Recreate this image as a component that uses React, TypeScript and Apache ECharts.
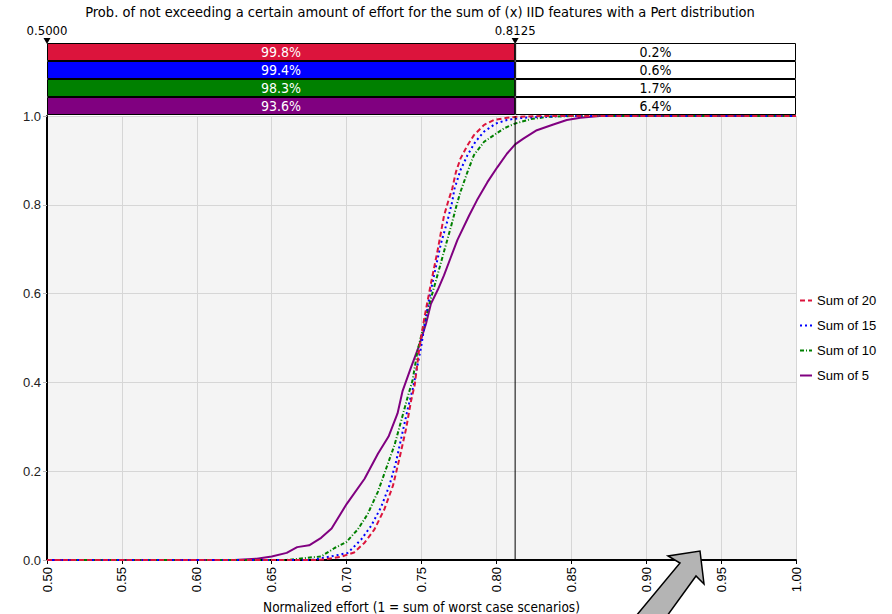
import React, { useEffect, useRef } from 'react';
import * as echarts from 'echarts';

// ---- data ----
const seriesNames = ['Sum of 20', 'Sum of 15', 'Sum of 10', 'Sum of 5'];
const seriesColors = ['#dc143c', '#0000ff', '#008000', '#800080'];

const sum20: number[][] = [
  [0.5, 0], [0.68, 0], [0.685, 0.001], [0.696, 0.007], [0.705, 0.017], [0.712, 0.039],
  [0.7186, 0.069], [0.7253, 0.115], [0.731, 0.168], [0.7353, 0.229], [0.7398, 0.297],
  [0.743, 0.358], [0.7455, 0.395], [0.7486, 0.479], [0.752, 0.547], [0.7563, 0.623],
  [0.7608, 0.698], [0.765, 0.775], [0.768, 0.81], [0.7705, 0.836], [0.773, 0.874],
  [0.776, 0.904], [0.7807, 0.934], [0.785, 0.957], [0.7918, 0.98], [0.7984, 0.991],
  [0.807, 0.996], [0.8125, 0.998], [0.83, 1.0], [1.0, 1.0],
];
const sum15: number[][] = [
  [0.5, 0], [0.675, 0], [0.678, 0.001], [0.6896, 0.008], [0.7008, 0.016], [0.7097, 0.046],
  [0.7164, 0.077], [0.723, 0.119], [0.7286, 0.168], [0.733, 0.221], [0.7375, 0.29],
  [0.741, 0.343], [0.7445, 0.39], [0.7497, 0.479], [0.754, 0.57], [0.7586, 0.645],
  [0.763, 0.713], [0.7675, 0.766], [0.7705, 0.807], [0.772, 0.836], [0.776, 0.878],
  [0.7807, 0.912], [0.786, 0.942], [0.7918, 0.965], [0.7996, 0.983], [0.807, 0.991],
  [0.8125, 0.994], [0.818, 0.996], [0.829, 0.998], [0.845, 1.0], [1.0, 1.0],
];
const sum10: number[][] = [
  [0.5, 0], [0.66, 0], [0.674, 0.005], [0.683, 0.008], [0.692, 0.027], [0.6997, 0.04],
  [0.7075, 0.069], [0.714, 0.103], [0.7208, 0.153], [0.7264, 0.206], [0.732, 0.259],
  [0.7364, 0.313], [0.741, 0.37], [0.744, 0.404], [0.7474, 0.472], [0.754, 0.562],
  [0.7597, 0.63], [0.7653, 0.698], [0.7697, 0.751], [0.7735, 0.8], [0.776, 0.829],
  [0.7807, 0.874], [0.785, 0.912], [0.7918, 0.942], [0.7984, 0.957], [0.805, 0.972],
  [0.8125, 0.983], [0.823, 0.993], [0.834, 0.998], [0.85, 1.0], [1.0, 1.0],
];
const sum5: number[][] = [
  [0.5, 0], [0.625, 0], [0.64, 0.003], [0.65, 0.008], [0.66, 0.016], [0.667, 0.029],
  [0.675, 0.033], [0.683, 0.05], [0.69, 0.071], [0.7, 0.126], [0.712, 0.183],
  [0.721, 0.24], [0.728, 0.278], [0.734, 0.33], [0.7374, 0.381], [0.743, 0.434],
  [0.748, 0.479], [0.753, 0.532], [0.7563, 0.577], [0.7608, 0.608], [0.765, 0.641],
  [0.7697, 0.683], [0.774, 0.721], [0.7818, 0.776], [0.787, 0.81], [0.794, 0.851],
  [0.8007, 0.885], [0.807, 0.915], [0.8125, 0.936], [0.818, 0.949], [0.827, 0.968],
  [0.838, 0.981], [0.847, 0.991], [0.856, 0.996], [0.869, 1.0], [1.0, 1.0],
];

const threshold = 0.8125;
const xMin = 0.5;
const xMax = 1.0;
const pctBelow = [99.8, 99.4, 98.3, 93.6];
const pctAbove = [0.2, 0.6, 1.7, 6.4];
const topTickValues = [0.5, 0.8125];

const titleText =
  'Prob. of not exceeding a certain amount of effort for the sum of (x) IID features with a Pert distribution';
const xAxisName = 'Normalized effort (1 = sum of worst case scenarios)';

const FONT = 'Liberation Sans';
const TFONT = '"DejaVu Sans Condensed", "DejaVu Sans", sans-serif';

export default function App() {
  const ref = useRef<HTMLDivElement>(null);

  useEffect(() => {
    if (!ref.current) return;
    const chart = echarts.init(ref.current, null, { renderer: 'svg' });

    const curves = [sum20, sum15, sum10, sum5];
    const dashes: any[] = [[5, 3], [2, 3], [4, 2, 1, 2], 'solid'];

    const lineSeries = curves.map((d, i) => ({
      name: seriesNames[i],
      type: 'line',
      xAxisIndex: 0,
      yAxisIndex: 0,
      data: d,
      showSymbol: false,
      symbol: 'none',
      z: 10 - i,
      lineStyle: { color: seriesColors[i], width: 2, type: dashes[i] },
      itemStyle: { color: seriesColors[i] },
    }));

    const barBorder = { borderColor: '#000', borderWidth: 1 };

    const option: any = {
      animation: false,
      backgroundColor: '#ffffff',
      title: {
        text: titleText,
        left: 420,
        top: 3,
        padding: 0,
        textAlign: 'center',
        textStyle: { fontFamily: TFONT, fontSize: 14.5, lineHeight: 17, fontWeight: 'normal', color: '#000' },
      },
      legend: {
        data: seriesNames,
        orient: 'vertical',
        left: 794,
        top: 289,
        itemWidth: 12,
        itemHeight: 10,
        itemGap: 12,
        itemStyle: { opacity: 0 },
        textStyle: { fontFamily: FONT, fontSize: 13, color: '#000' },
      },
      grid: [
        {
          left: 47,
          top: 116,
          width: 749,
          height: 444,
          show: true,
          backgroundColor: '#f4f4f4',
          borderWidth: 0,
          containLabel: false,
          outerBoundsMode: 'none',
        },
        {
          left: 47,
          top: 43,
          width: 749,
          height: 72,
          borderWidth: 0,
          containLabel: false,
          outerBoundsMode: 'none',
        },
      ],
      xAxis: [
        {
          type: 'value',
          gridIndex: 0,
          min: xMin,
          max: xMax,
          interval: 0.05,
          name: xAxisName,
          nameLocation: 'middle',
          nameGap: 39,
          nameMoveOverlap: false,
          nameTextStyle: {
            fontFamily: TFONT,
            fontSize: 13.5,
            lineHeight: 15,
            color: '#000',
            verticalAlign: 'top',
          },
          axisLine: { show: true, lineStyle: { color: '#000', width: 2 } },
          axisTick: { show: true, length: 4, lineStyle: { color: '#000' } },
          axisLabel: {
            rotate: 90,
            margin: 7,
            fontFamily: FONT,
            fontSize: 13,
            color: '#000',
            formatter: (v: number) => v.toFixed(2),
          },
          splitLine: { show: true, lineStyle: { color: '#d6d6d6', width: 1 } },
        },
        {
          type: 'value',
          gridIndex: 1,
          min: xMin,
          max: xMax,
          position: 'top',
          axisLine: { show: false },
          axisTick: { show: false },
          axisLabel: {
            customValues: topTickValues,
            margin: 6,
            fontFamily: TFONT,
            fontSize: 13,
            lineHeight: 14,
            color: '#000',
            formatter: (v: number) => v.toFixed(4),
          },
          splitLine: { show: false },
        },
      ],
      yAxis: [
        {
          type: 'value',
          gridIndex: 0,
          min: 0,
          max: 1,
          interval: 0.2,
          axisLine: { show: true, lineStyle: { color: '#000', width: 2 } },
          axisTick: { show: true, length: 4, lineStyle: { color: '#bbbbbb' } },
          axisLabel: {
            margin: 6,
            fontFamily: FONT,
            fontSize: 13,
            color: '#222',
            formatter: (v: number) => v.toFixed(1),
          },
          splitLine: { show: true, lineStyle: { color: '#d6d6d6', width: 1 } },
        },
        {
          type: 'category',
          gridIndex: 1,
          data: seriesNames,
          inverse: true,
          show: false,
        },
      ],
      series: [
        ...lineSeries,
        {
          type: 'line',
          xAxisIndex: 0,
          yAxisIndex: 0,
          silent: true,
          symbol: 'none',
          z: 20,
          data: [
            [threshold, 0],
            [threshold, 1],
          ],
          lineStyle: { color: '#000', width: 1, type: 'solid' },
        },
        {
          type: 'bar',
          xAxisIndex: 1,
          yAxisIndex: 1,
          stack: 'row',
          silent: true,
          barCategoryGap: 0,
          data: pctBelow.map(() => xMin),
          itemStyle: { color: 'rgba(0,0,0,0)' },
        },
        {
          type: 'bar',
          xAxisIndex: 1,
          yAxisIndex: 1,
          stack: 'row',
          silent: true,
          barCategoryGap: 0,
          data: pctBelow.map((p, i) => ({
            value: threshold - xMin,
            itemStyle: { color: seriesColors[i], ...barBorder },
          })),
          label: {
            show: true,
            position: 'inside',
            fontFamily: TFONT,
            fontSize: 14,
            color: '#fff',
            formatter: (p: any) => pctBelow[p.dataIndex].toFixed(1) + '%',
          },
        },
        {
          type: 'bar',
          xAxisIndex: 1,
          yAxisIndex: 1,
          stack: 'row',
          silent: true,
          barCategoryGap: 0,
          data: pctAbove.map(() => xMax - threshold),
          itemStyle: { color: '#fff', ...barBorder },
          label: {
            show: true,
            position: 'inside',
            fontFamily: TFONT,
            fontSize: 14,
            color: '#000',
            formatter: (p: any) => pctAbove[p.dataIndex].toFixed(1) + '%',
          },
        },
      ],
      graphic: [
        {
          type: 'polygon',
          z: 100,
          shape: {
            points: [
              [700, 551],
              [704, 584],
              [696, 576],
              [667, 616],
              [636, 616],
              [680, 563],
              [668, 556],
            ],
          },
          style: { fill: '#b4b4b4', stroke: '#000', lineWidth: 1.5 },
        },
      ],
    };

    chart.setOption(option);

    // small triangular markers above the bars at the labelled values
    const tri: any[] = topTickValues.map((v) => {
      const pt = chart.convertToPixel({ xAxisIndex: 1 } as any, v) as unknown as number;
      return {
        type: 'polygon',
        z: 100,
        shape: { points: [[pt - 3.5, 38], [pt + 3.5, 38], [pt, 44]] },
        style: { fill: '#000' },
      };
    });
    chart.setOption({ graphic: [...(option.graphic as any[]), ...tri] });

    return () => chart.dispose();
  }, []);

  return (
    <div
      ref={ref}
      style={{ position: 'fixed', left: 0, top: 0, width: 892, height: 614 }}
    />
  );
}
